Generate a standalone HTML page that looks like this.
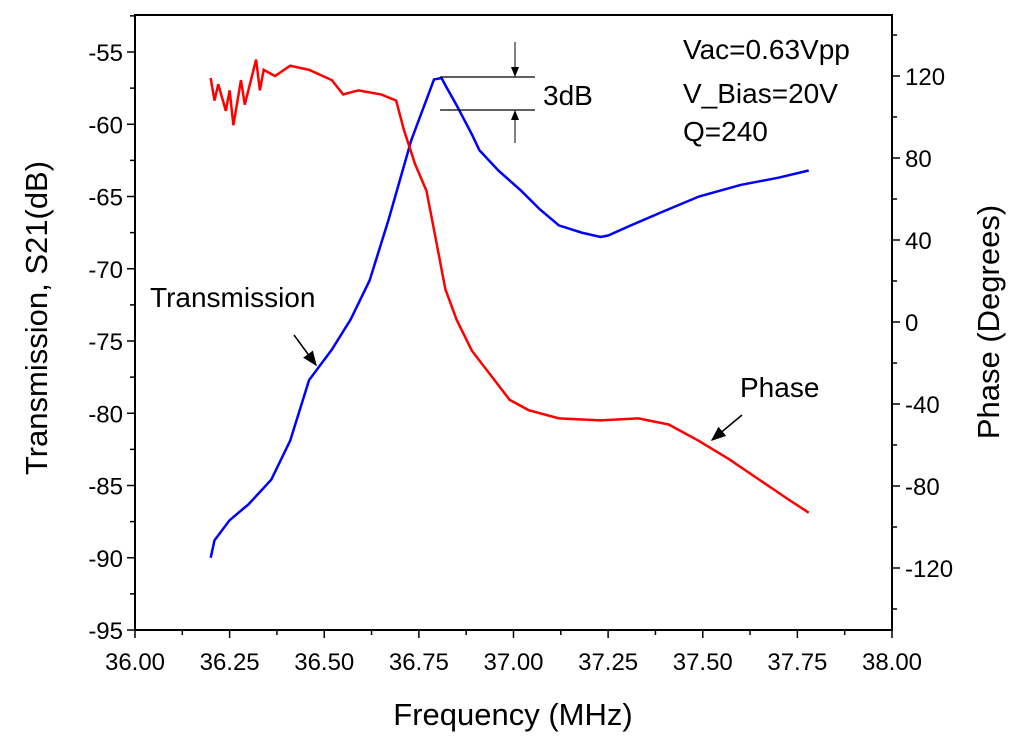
<!DOCTYPE html>
<html><head><meta charset="utf-8"><style>
body{margin:0;background:#fff}
svg text{font-family:"Liberation Sans",Arial,sans-serif;fill:#000}
</style></head><body>
<svg id="chart" width="1024" height="743" viewBox="0 0 1024 743">
<defs><marker id="ah" markerWidth="10" markerHeight="8" refX="9" refY="4" orient="auto"><path d="M0,0 L10,4 L0,8 z" fill="#000"/></marker></defs>
<g id="axes"></g>
<g id="series"></g>
<g>
<line x1="440" y1="77" x2="535" y2="77" stroke="#000" stroke-width="1.2"/>
<line x1="440" y1="110" x2="535" y2="110" stroke="#000" stroke-width="1.2"/>
<line x1="515" y1="42" x2="515" y2="76" stroke="#000" stroke-width="1" marker-end="url(#ah)"/>
<line x1="515" y1="143" x2="515" y2="111" stroke="#000" stroke-width="1" marker-end="url(#ah)"/>
<text x="543" y="105" font-size="28">3dB</text>
<text x="683" y="59" font-size="28">Vac=0.63Vpp</text>
<text x="683" y="103" font-size="28">V_Bias=20V</text>
<text x="683" y="141" font-size="28">Q=240</text>
<text x="150" y="307" font-size="28">Transmission</text>
<line x1="294" y1="335" x2="316" y2="365" stroke="#000" stroke-width="1.5" marker-end="url(#ah)"/>
<text x="740" y="397" font-size="28">Phase</text>
<line x1="742" y1="415" x2="712" y2="440" stroke="#000" stroke-width="1.5" marker-end="url(#ah)"/>
</g>
</svg>
<script>
const transFreq=[36.20,36.21,36.25,36.30,36.36,36.41,36.46,36.52,36.57,36.62,36.67,36.73,36.77,36.79,36.81,36.82,36.85,36.89,36.91,36.96,37.02,37.07,37.12,37.18,37.23,37.25,37.31,37.39,37.49,37.60,37.70,37.78];
const transDb=[-90.0,-88.8,-87.4,-86.3,-84.6,-81.9,-77.7,-75.6,-73.5,-70.8,-66.6,-61.1,-58.3,-56.9,-56.8,-57.3,-58.7,-60.7,-61.8,-63.2,-64.6,-65.9,-67.0,-67.5,-67.8,-67.7,-67.0,-66.1,-65.0,-64.2,-63.7,-63.2];
const phaseFreq=[36.20,36.21,36.22,36.24,36.25,36.26,36.28,36.29,36.32,36.33,36.34,36.37,36.41,36.46,36.52,36.55,36.59,36.65,36.69,36.71,36.74,36.77,36.79,36.82,36.85,36.89,36.94,36.99,37.04,37.12,37.23,37.33,37.41,37.49,37.57,37.65,37.73,37.78];
const phaseDeg=[119,108,116,103,113,96,118,106,128,113,123,120,125,123,118,111,113,111,108,94,77,64,45,16,1,-14,-26,-38,-43,-47,-48,-47,-50,-58,-67,-77,-87,-93];
const xTicks=["36.00","36.25","36.50","36.75","37.00","37.25","37.50","37.75","38.00"];
const yLeftTicks=["-95","-90","-85","-80","-75","-70","-65","-60","-55"];
const yRightTicks=["-120","-80","-40","0","40","80","120"];

const L=135,R=892,T=15,B=630;
const xs=f=>L+(f-36)*378.5;
const yl=v=>B-(v+95)*14.45;
const yr=d=>322-d*2.05;
const NS="http://www.w3.org/2000/svg";
function mk(tag,attrs,parent,txt){const e=document.createElementNS(NS,tag);for(const k in attrs)e.setAttribute(k,attrs[k]);if(txt!==undefined)e.textContent=txt;parent.appendChild(e);return e;}
const ax=document.getElementById('axes');
const frame=mk('rect',{x:L,y:T,width:R-L,height:B-T,fill:'none',stroke:'#000','stroke-width':2},ax);


xTicks.forEach((t,i)=>{const x=xs(parseFloat(t));
 mk('line',{x1:x,y1:B,x2:x,y2:B+8,stroke:'#000','stroke-width':1.5},ax);
 if(i<xTicks.length-1)mk('line',{x1:xs(parseFloat(t)+0.125),y1:B,x2:xs(parseFloat(t)+0.125),y2:B+5,stroke:'#000','stroke-width':1.5},ax);
 const e=mk('text',{x:x,y:B+40,'font-size':24,'text-anchor':'middle'},ax,t);
 
 });
yLeftTicks.forEach(t=>{const v=parseFloat(t),y=yl(v);
 mk('line',{x1:L-8,y1:y,x2:L,y2:y,stroke:'#000','stroke-width':1.5},ax);
 mk('line',{x1:L-5,y1:yl(v+2.5),x2:L,y2:yl(v+2.5),stroke:'#000','stroke-width':1.5},ax);
 const e=mk('text',{x:L-12,y:y+9,'font-size':24,'text-anchor':'end'},ax,t);
 
 });
yRightTicks.forEach(t=>{const d=parseFloat(t),y=yr(d);
 mk('line',{x1:R,y1:y,x2:R+8,y2:y,stroke:'#000','stroke-width':1.5},ax);
 mk('line',{x1:R,y1:yr(d-20),x2:R+5,y2:yr(d-20),stroke:'#000','stroke-width':1.5},ax);
 const e=mk('text',{x:R+13,y:y+9,'font-size':24},ax,t);
 
 });
mk('line',{x1:R,y1:yr(140),x2:R+5,y2:yr(140),stroke:'#000','stroke-width':1.5},ax);
const xt=mk('text',{x:513,y:725,'font-size':31,'text-anchor':'middle'},ax,'Frequency (MHz)');


const ylt=mk('text',{x:0,y:0,'font-size':31,'text-anchor':'middle',transform:'translate(47,318) rotate(-90)'},ax,'Transmission, S21(dB)');


const yrt=mk('text',{x:0,y:0,'font-size':31,'text-anchor':'middle',transform:'translate(999,322) rotate(-90)'},ax,'Phase (Degrees)');


const sg=document.getElementById('series');
const p1=mk('polyline',{points:transFreq.map((f,i)=>xs(f)+','+yl(transDb[i])).join(' '),fill:'none',stroke:'#0000ff','stroke-width':2.5},sg);


const p2=mk('polyline',{points:phaseFreq.map((f,i)=>xs(f)+','+yr(phaseDeg[i])).join(' '),fill:'none',stroke:'#ff0000','stroke-width':2.5},sg);


</script>
</body></html>
